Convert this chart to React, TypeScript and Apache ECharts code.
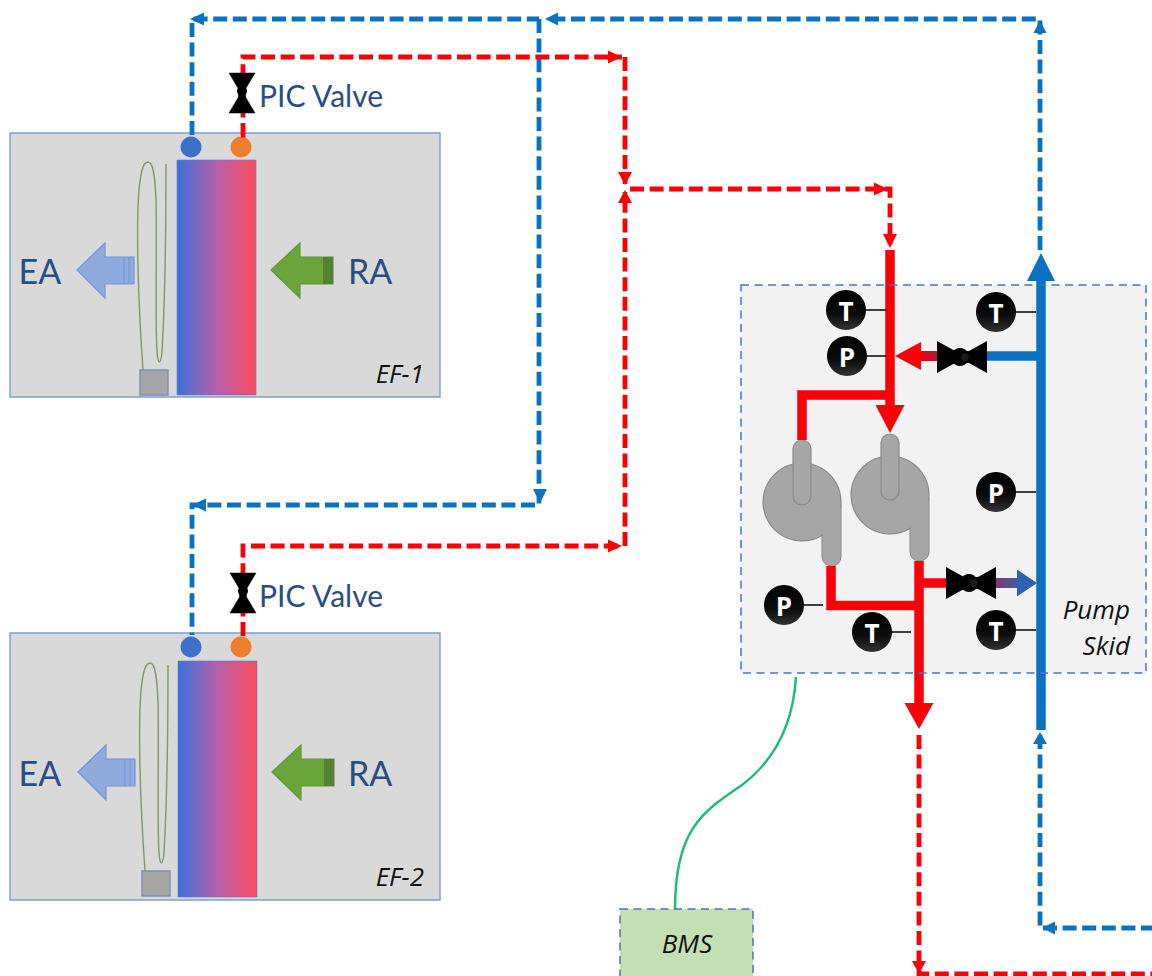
import React, { useEffect, useRef } from "react";
import * as echarts from "echarts";

const unitNames = ["EF-1", "EF-2"];
const airOut = "EA";
const airIn = "RA";
const valveLabel = "PIC Valve";
const skidLabel = ["Pump", "Skid"];
const controlLabel = "BMS";
const sensorLetters = ["T", "P", "T", "P", "P", "T", "T"];

const RED = "#fb0007";
const BLUE = "#0a72c2";
const NAVY = "#2b4d80";
const FONT = "Lato, 'Open Sans', sans-serif";
const ITALIC = "'Open Sans', Lato, sans-serif";

const LOOP_D = "M143 370 C 138 300 136 225 139 190 C 141 168 144 162 148 162 C 153 162 155 175 156 200 C 157 250 155 320 157 352 C 158 366 161 364 162 352 C 165 300 166 230 166 164";
const CURVE_D = "M796 677 C 793 725 775 760 742 785 C 702 812 675 830 675 909";

echarts.graphic.registerShape("filterLoop", echarts.graphic.extendPath(LOOP_D, {}) as any);
echarts.graphic.registerShape("bmsCurve", echarts.graphic.extendPath(CURVE_D, {}) as any);

type Pt = [number, number];
const poly = (points: Pt[], fill: any, extra: any = {}) => ({ type: "polygon", silent: true, shape: { points }, style: { fill, ...extra } });
const line = (points: Pt[], stroke: any, lineWidth: number, dash?: number[]) => ({
  type: "polyline",
  silent: true,
  shape: { points },
  style: { fill: "none", stroke, lineWidth, lineDash: dash, lineCap: "butt", lineJoin: "miter" },
});
const rect = (x: number, y: number, width: number, height: number, style: any, r: any = 0) => ({ type: "rect", silent: true, shape: { x, y, width, height, r }, style });
const circle = (cx: number, cy: number, r: number, style: any) => ({ type: "circle", silent: true, shape: { cx, cy, r }, style });
const text = (t: string, x: number, y: number, font: string, fill: string, textAlign = "left") => ({
  type: "text",
  silent: true,
  x,
  y,
  style: { text: t, font, fill, textAlign, textVerticalAlign: "middle" },
});

// small arrowhead given its tip and direction
const head = (x: number, y: number, dir: "l" | "r" | "u" | "d", len: number, hw: number, fill: any) => {
  const pts: Pt[] =
    dir === "l" ? [[x, y], [x + len, y - hw], [x + len, y + hw]] :
    dir === "r" ? [[x, y], [x - len, y - hw], [x - len, y + hw]] :
    dir === "u" ? [[x, y], [x - hw, y + len], [x + hw, y + len]] :
    [[x, y], [x - hw, y - len], [x + hw, y - len]];
  return poly(pts, fill);
};

const DASH = [14, 5.6];
const PIPE = 4.8;

const valveH = (cx: number, cy: number) => [
  poly([[cx - 25, cy - 16], [cx - 7, cy - 6], [cx + 7, cy - 6], [cx + 25, cy - 16], [cx + 25, cy + 16], [cx + 7, cy + 6], [cx - 7, cy + 6], [cx - 25, cy + 16]], "#000"),
  circle(cx - 2, cy, 9, { fill: "#000" }),
  circle(cx + 3, cy, 4, { fill: "#1a1a1a" }),
];
const valveV = (cx: number, cy: number) => [
  poly([[cx - 13, cy - 20], [cx + 13, cy - 20], [cx + 3.5, cy - 4], [cx + 3.5, cy + 4], [cx + 13, cy + 20], [cx - 13, cy + 20], [cx - 3.5, cy + 4], [cx - 3.5, cy - 4]], "#000", { stroke: "#000", lineWidth: 0.5 }),
  circle(cx, cy - 2, 5, { fill: "#000" }),
];

const sensor = (letter: string, cx: number, cy: number, x2: number) => [
  line([[cx + 19, cy], [x2, cy]], "#111", 1.6),
  circle(cx, cy, 20, {
    fill: new echarts.graphic.LinearGradient(0, 0, 0, 1, [
      { offset: 0, color: "#000" },
      { offset: 0.6, color: "#0b0b0b" },
      { offset: 1, color: "#333" },
    ]),
  }),
  text(letter, cx, cy + 1, `bold 26px ${ITALIC}`, "#fff", "center"),
];

const unit = (name: string, box: number[], coilX: number, coilY: number, coilH: number, ly: number, arrowDx: number, loopDx: number, loopDy: number, filter: number[]) => {
  const y = ly;
  return [
    rect(box[0], box[1], box[2], box[3], { fill: "#d9d9d9", stroke: "#7f9fcf", lineWidth: 1.4 }),
    circle(191, box[1] + 14, 10.5, { fill: "#3c71c7" }),
    circle(241, box[1] + 14, 10.5, { fill: "#ee7d2e" }),
    rect(coilX, coilY, 79, coilH, {
      fill: new echarts.graphic.LinearGradient(0, 0, 1, 0, [
        { offset: 0, color: "#3c70d8" },
        { offset: 0.5, color: "#b660aa" },
        { offset: 1, color: "#fa4c5c" },
      ]),
      stroke: "#5a7fc8",
      lineWidth: 0.6,
    }),
    { type: "filterLoop", silent: true, x: loopDx, y: loopDy, style: { fill: "none", stroke: "#7f9a66", lineWidth: 1.4 } },
    rect(filter[0], filter[1], 28, 25, { fill: "#a6a6a6", stroke: "#7f90b5", lineWidth: 1.4 }),
    // EA arrow
    poly([[77 + arrowDx, y], [105 + arrowDx, y - 27], [105 + arrowDx, y - 13], [134 + arrowDx, y - 13], [134 + arrowDx, y + 14], [105 + arrowDx, y + 14], [105 + arrowDx, y + 28]], "#8faadc", { stroke: "#7595d8", lineWidth: 1.2 }),
    line([[124 + arrowDx, y - 13], [124 + arrowDx, y + 14]], "#7595d8", 1),
    line([[129 + arrowDx, y - 13], [129 + arrowDx, y + 14]], "#7595d8", 1),
    // RA arrow
    poly([[271 + arrowDx, y], [300 + arrowDx, y - 27], [300 + arrowDx, y - 13], [333 + arrowDx, y - 13], [333 + arrowDx, y + 14], [300 + arrowDx, y + 14], [300 + arrowDx, y + 28]], "#6ca43c", { stroke: "#5f9a38", lineWidth: 1.2 }),
    rect(323 + arrowDx, y - 13, 10, 27, { fill: "#548235" }),
    text(airOut, 18.5, y, `34px ${FONT}`, NAVY),
    text(airIn, 348, y, `34px ${FONT}`, NAVY),
    text(name, box[0] + 414, box[1] + box[3] - 24, `italic 26px ${ITALIC}`, "#111", "right"),
  ];
};

const buildGraphic = () => {
  const pumpFill = "#a6a6a6";
  const pumpStroke = "#8a8a8a";
  const els: any[] = [
    // units
    ...unit(unitNames[0], [10, 133, 430, 264], 177, 160, 235, 270, 0, 0, 0, [140, 370]),
    ...unit(unitNames[1], [10, 633, 430, 267], 178, 661, 236, 772, 1, 2, 501, [142, 871]),

    // dashed blue network
    line([[192, 135], [192, 19], [539, 19]], BLUE, PIPE, DASH),
    head(190, 19, "l", 14, 6.5, BLUE),
    line([[1040, 250], [1040, 19], [548, 19]], BLUE, PIPE, DASH),
    head(545, 19, "l", 13, 6.5, BLUE),
    head(1040, 20, "u", 13, 6.5, BLUE),
    line([[539, 19], [539, 505], [192, 505], [192, 635]], BLUE, PIPE, DASH),
    head(540, 503, "d", 14, 7, BLUE),
    head(192, 505, "l", 14, 6.5, BLUE),

    // dashed red network
    line([[241, 135], [243, 135], [243, 57], [622, 57]], RED, PIPE, DASH),
    head(622, 57, "r", 14, 6.5, RED),
    line([[625, 57], [625, 184]], RED, PIPE, DASH),
    head(625, 185, "d", 13, 7, RED),
    line([[243, 636], [243, 546], [620, 546]], RED, PIPE, DASH),
    head(622, 546, "r", 14, 6.5, RED),
    line([[625, 546], [625, 192]], RED, PIPE, DASH),
    head(625, 190, "u", 13, 7, RED),
    line([[630, 189], [890, 189], [890, 244]], RED, PIPE, DASH),
    head(888, 189, "r", 14, 6.5, RED),
    head(890, 248, "d", 14, 7, RED),

    // lower return and supply
    line([[919, 735], [919, 974], [1152, 974]], RED, PIPE, DASH),
    head(919, 974, "d", 13, 7, RED),
    line([[1040, 735], [1040, 928], [1152, 928]], BLUE, PIPE, DASH),
    head(1040, 732, "u", 12, 7, BLUE),
    head(1042, 928, "l", 13, 6.5, BLUE),

    // valves on units
    ...valveV(242, 93),
    ...valveV(243, 593),
    text(valveLabel, 259, 95, `30px ${FONT}`, NAVY),
    text(valveLabel, 259, 595, `30px ${FONT}`, NAVY),

    // skid background
    rect(741, 285, 405, 388, { fill: "#f2f2f2" }),

    // pumps: nozzles first, then volutes
    circle(802, 502, 39, { fill: pumpFill, stroke: pumpStroke, lineWidth: 1.2 }),
    circle(890, 495, 39, { fill: pumpFill, stroke: pumpStroke, lineWidth: 1.2 }),
    rect(822, 505, 19, 61, { fill: pumpFill, stroke: pumpStroke, lineWidth: 1 }, [0, 0, 9, 9]),
    rect(910, 498, 19, 63, { fill: pumpFill, stroke: pumpStroke, lineWidth: 1 }, [0, 0, 9, 9]),
    circle(802, 502, 38, { fill: pumpFill }),
    circle(890, 495, 38, { fill: pumpFill }),
    rect(793, 440, 18, 65, { fill: pumpFill, stroke: pumpStroke, lineWidth: 1.2 }, 9),
    rect(881, 434, 18, 66, { fill: pumpFill, stroke: pumpStroke, lineWidth: 1.2 }, 9),

    // solid red
    line([[890, 250], [890, 410]], RED, 9.5),
    head(890, 433, "d", 28, 14.5, RED),
    line([[890, 395], [802, 395], [802, 440]], RED, 9.5),
    line([[919, 561], [919, 705]], RED, 9.5),
    head(919, 729, "d", 26, 14.5, RED),
    line([[831, 566], [831, 605.5], [919, 605.5]], RED, 9.5),
    line([[919, 583], [947, 583]], RED, 9.5),
    head(895, 356, "l", 26, 14, RED),
    rect(920, 351, 18, 10, {
      fill: new echarts.graphic.LinearGradient(0, 0, 1, 0, [
        { offset: 0, color: "#f00010" },
        { offset: 1, color: "#a02030" },
      ]),
    }),

    // solid blue
    line([[1041, 275], [1041, 730]], BLUE, 9.5),
    head(1041, 253, "u", 28, 14, BLUE),
    line([[985, 356], [1041, 356]], BLUE, 9.5),

    // cross-over stub into blue
    rect(995, 578, 24, 10, {
      fill: new echarts.graphic.LinearGradient(0, 0, 1, 0, [
        { offset: 0, color: "#80386a" },
        { offset: 1, color: "#3a5fae" },
      ]),
    }),
    head(1037, 583, "r", 20, 13.5, "#2a62b4"),

    // skid valves
    ...valveH(962, 357),
    ...valveH(971, 583),

    // skid outline above pipes
    rect(741, 285, 405, 388, { fill: "none", stroke: "#4a73c4", lineWidth: 1.5, lineDash: [8, 5.5] }),

    // sensors
    ...sensor(sensorLetters[0], 846, 310, 886),
    ...sensor(sensorLetters[1], 847, 356, 886),
    ...sensor(sensorLetters[2], 996, 312, 1036),
    ...sensor(sensorLetters[3], 996, 492, 1036),
    ...sensor(sensorLetters[4], 784, 605, 823),
    ...sensor(sensorLetters[5], 872, 632, 911),
    ...sensor(sensorLetters[6], 996, 630, 1036),

    text(skidLabel[0], 1130, 609, `italic 26px ${ITALIC}`, "#111", "right"),
    text(skidLabel[1], 1130, 645, `italic 26px ${ITALIC}`, "#111", "right"),

    // BMS
    { type: "bmsCurve", silent: true, style: { fill: "none", stroke: "#22bb77", lineWidth: 2.5 } },
    rect(620, 909, 133, 70, { fill: "#c5dfb4", stroke: "#4a73c4", lineWidth: 1.5, lineDash: [8, 5.5] }),
    text(controlLabel, 687, 943, `italic 26px ${ITALIC}`, "#111", "center"),
  ];
  return els;
};

export default function App() {
  const ref = useRef<HTMLDivElement>(null);
  useEffect(() => {
    document.body.style.margin = "0";
    document.body.style.background = "#fff";
    const chart = echarts.init(ref.current!, null, { renderer: "svg" });
    chart.setOption({
      animation: false,
      backgroundColor: "#fff",
      graphic: { elements: buildGraphic() },
    });
    return () => chart.dispose();
  }, []);
  return <div ref={ref} style={{ width: 1152, height: 976, position: "absolute", left: 0, top: 0, overflow: "hidden" }} />;
}
